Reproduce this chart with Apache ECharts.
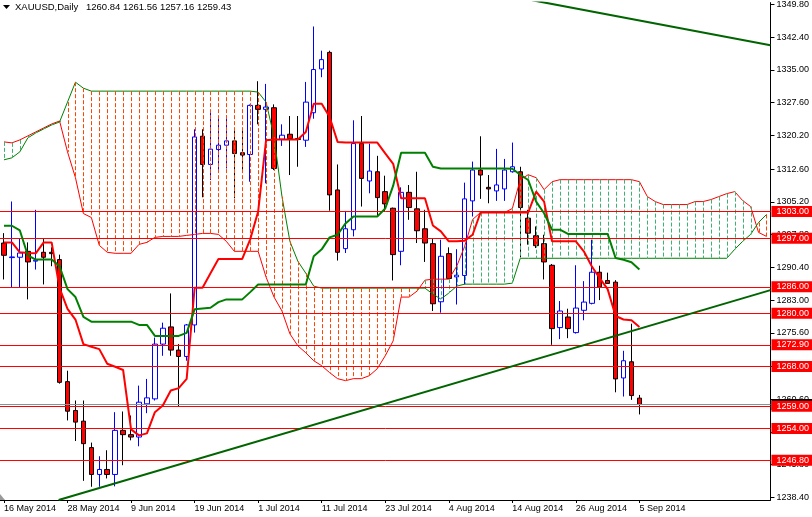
<!DOCTYPE html>
<html><head><meta charset="utf-8">
<script src="https://cdn.jsdelivr.net/npm/echarts@6/dist/echarts.min.js"></script>
<style>html,body{margin:0;padding:0;background:#fff}#c{width:812px;height:517px}</style>
</head><body><div id="c"></div>
<script>
const dates = ['16 May 2014','19 May 2014','20 May 2014','21 May 2014','22 May 2014','23 May 2014','26 May 2014','27 May 2014','28 May 2014','29 May 2014','30 May 2014',
'2 Jun 2014','3 Jun 2014','4 Jun 2014','5 Jun 2014','6 Jun 2014','9 Jun 2014','10 Jun 2014','11 Jun 2014','12 Jun 2014','13 Jun 2014','16 Jun 2014','17 Jun 2014','18 Jun 2014','19 Jun 2014','20 Jun 2014','23 Jun 2014','24 Jun 2014','25 Jun 2014','26 Jun 2014','27 Jun 2014','30 Jun 2014',
'1 Jul 2014','2 Jul 2014','3 Jul 2014','4 Jul 2014','7 Jul 2014','8 Jul 2014','9 Jul 2014','10 Jul 2014','11 Jul 2014','14 Jul 2014','15 Jul 2014','16 Jul 2014','17 Jul 2014','18 Jul 2014','21 Jul 2014','22 Jul 2014','23 Jul 2014','24 Jul 2014','25 Jul 2014','28 Jul 2014','29 Jul 2014','30 Jul 2014','31 Jul 2014',
'1 Aug 2014','4 Aug 2014','5 Aug 2014','6 Aug 2014','7 Aug 2014','8 Aug 2014','11 Aug 2014','12 Aug 2014','13 Aug 2014','14 Aug 2014','15 Aug 2014','18 Aug 2014','19 Aug 2014','20 Aug 2014','21 Aug 2014','22 Aug 2014','25 Aug 2014','26 Aug 2014','27 Aug 2014','28 Aug 2014','29 Aug 2014',
'1 Sep 2014','2 Sep 2014','3 Sep 2014','4 Sep 2014','5 Sep 2014'];
const futureDates = ['8 Sep 2014','9 Sep 2014','10 Sep 2014','11 Sep 2014','12 Sep 2014','15 Sep 2014','16 Sep 2014','17 Sep 2014','18 Sep 2014','19 Sep 2014','22 Sep 2014','23 Sep 2014','24 Sep 2014','25 Sep 2014','26 Sep 2014','29 Sep 2014'];

const open  = [1295.89,1292.60,1292.68,1294.02,1291.80,1293.80,1293.80,1292.15,1264.57,1258.05,1255.64,1249.66,1243.59,1244.72,1243.59,1253.55,1252.59,1252.05,1259.55,1260.68,1273.05,1276.94,1271.70,1270.26,1277.38,1320.03,1313.65,1317.02,1318.00,1318.98,1316.30,1315.90,1327.00,1326.10,1326.47,1319.36,1320.48,1319.50,1319.13,1325.34,1335.23,1338.98,1307.89,1294.63,1298.90,1318.37,1309.92,1312.00,1307.51,1303.76,1294.02,1307.35,1303.62,1299.12,1295.75,1282.62,1293.50,1288.24,1288.56,1305.42,1312.39,1308.48,1307.67,1308.12,1312.00,1312.00,1301.51,1297.55,1295.75,1290.87,1276.78,1279.18,1275.65,1280.69,1282.26,1289.30,1287.43,1287.05,1265.40,1269.06,1260.84];
const high  = [1298.13,1305.28,1297.01,1296.04,1303.40,1296.82,1294.92,1293.27,1267.04,1260.30,1260.30,1250.79,1247.71,1249.06,1257.67,1257.82,1256.92,1263.67,1265.18,1274.53,1277.90,1284.50,1273.05,1277.60,1321.60,1321.60,1325.50,1324.60,1324.75,1321.60,1321.60,1327.20,1332.46,1331.86,1327.23,1322.72,1324.60,1324.60,1332.30,1344.83,1339.36,1339.36,1313.65,1303.14,1323.63,1324.60,1318.37,1315.60,1311.11,1303.90,1308.48,1309.00,1312.00,1303.40,1297.01,1296.65,1294.92,1294.50,1309.54,1314.30,1320.02,1311.26,1317.17,1314.90,1318.60,1313.13,1303.40,1299.64,1297.77,1291.16,1282.78,1281.05,1290.87,1287.28,1296.65,1290.77,1289.20,1287.50,1271.54,1277.66,1261.56];
const low   = [1287.66,1285.93,1285.93,1283.16,1289.90,1286.53,1290.65,1264.12,1255.80,1251.15,1242.15,1240.81,1240.81,1242.69,1240.90,1245.68,1251.30,1249.96,1257.44,1260.30,1270.41,1270.41,1258.88,1269.30,1275.65,1306.23,1310.14,1312.23,1312.75,1306.00,1312.38,1309.76,1322.72,1309.38,1312.38,1317.84,1311.26,1313.13,1317.62,1323.99,1333.36,1303.20,1291.93,1293.64,1297.39,1304.14,1307.13,1301.89,1303.01,1287.43,1290.87,1301.14,1295.89,1291.62,1280.53,1280.15,1287.80,1282.00,1286.53,1301.89,1305.87,1304.88,1305.42,1305.42,1311.80,1292.67,1295.52,1294.76,1287.66,1272.89,1274.17,1274.39,1275.43,1278.44,1282.03,1283.00,1286.67,1262.16,1261.20,1260.45,1257.16];
const close = [1293.12,1292.75,1293.64,1291.62,1292.00,1292.68,1293.50,1264.41,1257.89,1255.42,1250.56,1243.59,1244.72,1243.59,1253.55,1252.59,1252.05,1259.92,1260.90,1273.05,1276.64,1271.70,1270.26,1277.38,1319.87,1313.65,1317.11,1318.00,1318.98,1316.12,1315.77,1327.00,1326.10,1326.62,1312.75,1320.26,1319.50,1319.30,1327.74,1335.10,1337.34,1306.77,1293.80,1299.12,1318.37,1310.50,1312.16,1306.16,1304.74,1293.28,1307.35,1303.91,1298.67,1295.89,1282.17,1292.90,1287.88,1288.62,1305.87,1312.39,1311.26,1308.12,1309.02,1312.39,1313.13,1303.91,1298.13,1295.30,1291.62,1276.55,1280.53,1276.55,1281.20,1282.55,1289.30,1285.93,1286.76,1265.18,1269.29,1261.42,1259.43];

const tenkan = [1296.04,1296.04,1293.80,1293.64,1293.57,1296.04,1296.04,1285.70,1281.00,1278.60,1273.04,1272.44,1271.92,1268.62,1267.94,1267.20,1253.78,1252.43,1252.88,1257.67,1259.17,1262.55,1263.11,1265.18,1285.77,1285.77,1289.07,1292.29,1292.29,1292.29,1292.29,1296.72,1303.01,1319.13,1319.27,1319.27,1319.27,1319.27,1321.00,1327.36,1327.36,1324.37,1318.75,1318.60,1318.60,1318.60,1318.60,1318.60,1316.16,1313.80,1306.00,1306.00,1306.00,1306.00,1299.87,1298.52,1296.27,1296.27,1296.43,1297.77,1302.79,1302.79,1302.79,1302.79,1302.79,1302.79,1302.79,1307.51,1305.26,1296.27,1296.27,1296.27,1296.27,1294.02,1290.65,1287.95,1285.48,1279.40,1278.62,1278.44,1276.93];
const kijun  = [1299.80,1299.80,1298.74,1293.12,1292.15,1292.15,1292.15,1290.65,1285.48,1283.68,1279.18,1278.13,1278.13,1278.13,1278.13,1278.13,1278.13,1277.38,1277.38,1274.91,1274.91,1274.91,1274.91,1275.59,1280.91,1281.09,1281.27,1282.55,1283.16,1283.16,1283.16,1284.80,1286.53,1286.53,1286.53,1286.53,1286.53,1286.53,1286.53,1292.90,1294.47,1297.17,1297.77,1300.32,1301.89,1301.89,1301.89,1301.89,1303.69,1308.86,1316.28,1316.28,1316.28,1316.28,1313.13,1312.75,1312.75,1312.75,1312.75,1312.75,1312.75,1312.75,1312.75,1312.75,1312.68,1311.33,1310.14,1305.26,1302.63,1298.90,1298.90,1297.95,1297.95,1297.95,1297.95,1297.95,1297.95,1292.51,1292.11,1291.55,1289.91];
const spanA = [1318.75,1318.53,1319.20,1320.10,1321.00,1321.90,1322.80,1323.47,1316.50,1310.66,1302.56,1301.66,1295.37,1293.80,1293.57,1293.57,1293.57,1295.59,1296.04,1297.17,1297.39,1297.39,1297.39,1297.62,1297.84,1298.07,1298.07,1297.84,1296.27,1294.02,1294.02,1294.02,1294.02,1288.18,1283.68,1280.53,1275.36,1272.66,1271.09,1269.29,1268.17,1266.60,1265.24,1264.79,1265.24,1265.24,1265.92,1267.49,1270.41,1273.79,1283.68,1283.68,1285.03,1287.50,1287.73,1287.73,1287.73,1290.65,1295.14,1301.21,1302.79,1302.79,1302.79,1302.79,1303.69,1310.21,1311.33,1310.66,1307.96,1309.76,1310.21,1310.21,1310.21,1310.21,1310.21,1310.21,1310.21,1310.21,1310.21,1310.21,1309.76,1306.39,1305.26,1304.59,1304.59,1304.59,1304.59,1305.26,1305.26,1305.71,1306.39,1307.06,1307.51,1305.49,1304.14,1298.29,1297.39];
const spanB = [1314.70,1315.15,1316.50,1319.65,1320.77,1321.67,1322.57,1323.25,1327.74,1332.24,1330.89,1330.22,1330.22,1330.22,1330.22,1330.22,1330.22,1330.22,1330.22,1330.22,1330.22,1330.22,1330.22,1330.22,1330.22,1330.22,1330.22,1330.22,1330.22,1330.22,1330.22,1330.22,1330.00,1327.74,1319.87,1306.39,1296.27,1291.77,1289.07,1286.15,1285.70,1285.70,1285.70,1285.70,1285.70,1285.70,1285.70,1285.70,1285.70,1285.70,1285.70,1285.70,1285.70,1285.70,1284.35,1283.23,1284.58,1286.15,1286.60,1286.60,1286.60,1286.60,1286.60,1286.60,1286.83,1292.45,1292.45,1292.45,1292.45,1292.45,1292.45,1292.45,1292.45,1292.45,1292.45,1292.45,1292.45,1292.45,1292.45,1292.45,1292.45,1292.45,1292.45,1292.45,1292.45,1292.45,1292.45,1292.45,1292.45,1292.45,1292.45,1292.45,1294.47,1296.27,1297.84,1300.54,1302.34];

const levels = [1303.00, 1297.00, 1286.00, 1280.00, 1272.90, 1268.00, 1259.00, 1254.00, 1246.80];
const bidPrice = 1259.43;
const yTickLabels = [1238.40,1245.80,1253.20,1260.60,1268.00,1275.60,1283.00,1290.40,1297.80,1305.20,1312.60,1320.20,1327.60,1335.00,1342.40,1349.80];
const trendUp = [[6.88, 1237.82], [96.5, 1285.25]];
const trendDown = [[66.5, 1350.77], [96.5, 1340.60]];
const yMin = 1237.82, yMax = 1350.23;

const cats = dates.concat(futureDates);
const N = cats.length;
const FONT = 'Liberation Sans, Arial, sans-serif';
const chart = echarts.init(document.getElementById('c'), null, {renderer:'canvas'});
const candleData = dates.map((d,i)=>[open[i], close[i], low[i], high[i]]);
const last = dates.length - 1;

const option = {
  animation:false,
  backgroundColor:'#ffffff',
  textStyle:{fontFamily:FONT},
  grid:{left:-4, right:40, top:0, bottom:17, containLabel:false},
  xAxis:[{
    type:'category', data:cats, boundaryGap:true,
    axisLine:{show:true, onZero:false, lineStyle:{color:'#000', width:1}},
    axisTick:{show:true, alignWithLabel:true, length:3, lineStyle:{color:'#000'}, interval:(i)=> i%8===0 && i<=last},
    axisLabel:{show:true, interval:(i)=> i%8===0 && i<=last, align:'left', margin:4, color:'#000', fontSize:9, fontFamily:FONT},
    splitLine:{show:false}
  },{
    type:'value', min:-0.5, max:N-0.5, show:false, axisLine:{onZero:false}
  }],
  yAxis:{
    type:'value', position:'right', min:yMin, max:yMax, scale:true,
    axisLine:{show:true, onZero:false, lineStyle:{color:'#000', width:1}},
    axisTick:{show:true, length:4, lineStyle:{color:'#000'}, customValues:yTickLabels},
    axisLabel:{show:true, margin:6, color:'#000', fontSize:9, fontFamily:FONT, customValues:yTickLabels, formatter:(v)=>Number(v).toFixed(2)},
    splitLine:{show:false}
  },
  graphic:[
    {type:'polygon', shape:{points:[[3,5],[10,5],[6.5,9]]}, style:{fill:'#000'}},
    {type:'text', left:15, top:2, style:{text:'XAUUSD,Daily', font:'9.5px '+FONT, fill:'#000'}},
    {type:'text', left:86, top:2, style:{text:[open[last],high[last],low[last],close[last]].map(v=>v.toFixed(2)).join(' '), font:'9.5px '+FONT, fill:'#000'}},
    {type:'polygon', shape:{points:[[0,494],[0,500],[5,500]]}, style:{fill:'#9a9a9a'}}
  ],
  series:[
    {type:'candlestick', name:'XAUUSD', data:candleData, barWidth:5, z:2,
      itemStyle:{color:'#ffffff', color0:'#ff0000', borderColor:'#0000ff', borderColor0:'#000000', borderWidth:1}},
    {type:'line', name:'SpanA', data:spanA, symbol:'none', z:3, lineStyle:{color:'#ff0000', width:1}, silent:true},
    {type:'line', name:'SpanB', data:spanB, symbol:'none', z:3, lineStyle:{color:'#008000', width:1}, silent:true},
    {type:'custom', name:'Cloud', silent:true, z:4,
      data: spanA.map((a,i)=>[i, a, spanB[i]]),
      encode:{x:0, y:[1,2]},
      renderItem:(params, api)=>{
        const i = api.value(0), a = api.value(1), b = api.value(2);
        const p1 = api.coord([i, a]), p2 = api.coord([i, b]);
        const x = Math.round(p1[0]) + 0.5;
        return {type:'line', shape:{x1:x, y1:Math.min(p1[1],p2[1]), x2:x, y2:Math.max(p1[1],p2[1])},
          style:{stroke: a>=b ? '#3cb371' : '#ff4500', lineWidth:1, lineDash:[4,2]}};
      }},
    {type:'line', name:'Tenkan', data:tenkan, symbol:'none', z:5, lineStyle:{color:'#ff0000', width:2}, silent:true},
    {type:'line', name:'Kijun', data:kijun, symbol:'none', z:5, lineStyle:{color:'#008000', width:2}, silent:true},
    {type:'line', name:'TrendUp', xAxisIndex:1, data:trendUp, symbol:'none', z:6, lineStyle:{color:'#006400', width:2}, silent:true, clip:true},
    {type:'line', name:'TrendDown', xAxisIndex:1, data:trendDown, symbol:'none', z:6, lineStyle:{color:'#006400', width:2}, silent:true, clip:true},
    {type:'line', name:'Levels', data:[], z:7, silent:true,
      markLine:{silent:true, symbol:['none','none'], animation:false,
        data:[{yAxis:bidPrice, lineStyle:{color:'#909090', width:1, type:'solid'},
               label:{show:true, position:'end', distance:1, formatter:(p)=>Number(p.value).toFixed(2), backgroundColor:'#000', color:'#fff', padding:[1,4,0,5], lineHeight:10, fontSize:9, fontFamily:FONT}}]
          .concat(levels.map(v=>({yAxis:v, lineStyle:{color:'#ff0000', width:1, type:'solid'},
               label:{show:true, position:'end', distance:1, formatter:(p)=>Number(p.value).toFixed(2), backgroundColor:'#ff0000', color:'#fff', padding:[1,4,0,5], lineHeight:10, fontSize:9, fontFamily:FONT}})))
      }}
  ]
};
chart.setOption(option);
</script></body></html>
